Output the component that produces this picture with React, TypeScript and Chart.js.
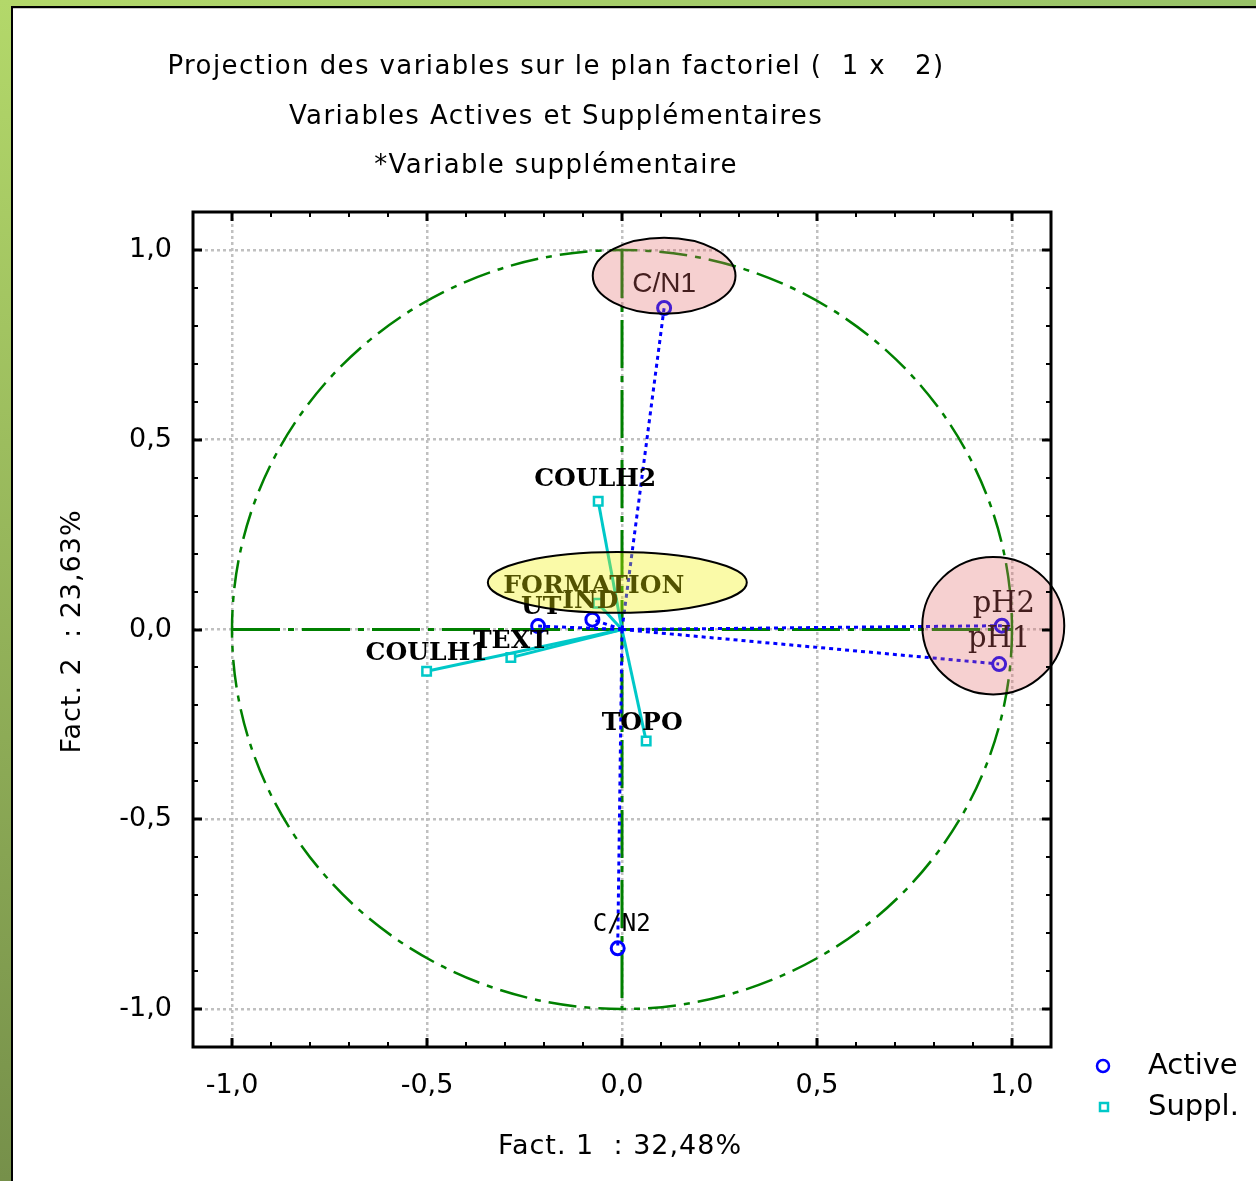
import React, { useEffect, useRef } from 'react';
import { Chart, registerables } from 'chart.js';

Chart.register(...registerables);

// ---------------- data ----------------
const TITLE_LINES = [
  'Projection des variables sur le plan factoriel (  1 x   2)',
  'Variables Actives et Supplémentaires',
  '*Variable supplémentaire',
];
const X_TITLE = 'Fact. 1  : 32,48%';
const Y_TITLE = 'Fact. 2  : 23,63%';

const ACTIVE_NAMES = ['C/N1', 'pH2', 'pH1', 'C/N2', 'UT', 'IND'];
const ACTIVE_X = [0.108, 0.974, 0.967, -0.011, -0.215, -0.076];
const ACTIVE_Y = [0.847, 0.010, -0.091, -0.840, 0.009, 0.026];

const SUPPL_NAMES = ['COULH2', 'FORMATION', 'COULH1', 'TEXT', 'TOPO'];
const SUPPL_X = [-0.061, -0.062, -0.501, -0.285, 0.062];
const SUPPL_Y = [0.338, 0.069, -0.110, -0.074, -0.294];

const LEGEND_LABELS = ['Active', 'Suppl.'];
const MAJOR_TICKS = [-1, -0.5, 0, 0.5, 1];
const MAJOR_TICK_LABELS = ['-1,0', '-0,5', '0,0', '0,5', '1,0'];
const AXIS_MIN = -1.1;
const AXIS_MAX = 1.1;
const CIRCLE_RADIUS = 1;

// highlight ellipses (data units)
const HIGHLIGHT_CX = [0.108, 0.952, -0.012];
const HIGHLIGHT_CY = [0.932, 0.010, 0.124];
const HIGHLIGHT_RX = [0.183, 0.182, 0.332];
const HIGHLIGHT_RY = [0.100, 0.181, 0.080];

// ---------------- styles ----------------
const BLUE = '#0000ff';
const CYAN = '#00c8c8';
const GREEN = '#008000';
const SANS = '"DejaVu Sans"';
const HIGHLIGHT_FILL = ['rgba(225,100,100,0.30)', 'rgba(225,100,100,0.30)', 'rgba(240,240,0,0.34)'];

const BOLD_SERIF = 'bold 25px "DejaVu Serif"';
const LABEL_STYLE: Record<string, { font: string; dx: number; dy: number }> = {
  'C/N1': { font: '28px "Liberation Sans"', dx: 0, dy: -16 },
  pH2: { font: '29px "DejaVu Serif"', dx: 2, dy: -14 },
  pH1: { font: '29px "DejaVu Serif"', dx: 0, dy: -17 },
  'C/N2': { font: '24px "DejaVu Sans Mono"', dx: 4, dy: -17 },
  UT: { font: BOLD_SERIF, dx: 3, dy: -12 },
  IND: { font: BOLD_SERIF, dx: -2, dy: -12 },
  COULH2: { font: BOLD_SERIF, dx: -3, dy: -15 },
  FORMATION: { font: BOLD_SERIF, dx: -4, dy: -10 },
  COULH1: { font: BOLD_SERIF, dx: 0, dy: -11 },
  TEXT: { font: BOLD_SERIF, dx: 0, dy: -10 },
  TOPO: { font: BOLD_SERIF, dx: -4, dy: -11 },
};

const isMajor = (v: number) => MAJOR_TICKS.some((t) => Math.abs(t - v) < 1e-6);
const tickLabel = (v: number) => {
  const i = MAJOR_TICKS.findIndex((t) => Math.abs(t - v) < 1e-6);
  return i >= 0 ? MAJOR_TICK_LABELS[i] : '';
};

const activeSets = ACTIVE_NAMES.map((name, i) => ({
  label: name,
  data: [
    { x: 0, y: 0 },
    { x: ACTIVE_X[i], y: ACTIVE_Y[i] },
  ],
  showLine: true,
  tension: 0,
  borderColor: BLUE,
  borderWidth: 3,
  borderDash: [4, 4],
  pointRadius: [0, 6.5],
  pointStyle: 'circle',
  pointBorderColor: BLUE,
  pointBackgroundColor: 'rgba(255,255,255,0)',
  pointBorderWidth: 3,
}));

const supplSets = SUPPL_NAMES.map((name, i) => ({
  label: name,
  data: [
    { x: 0, y: 0 },
    { x: SUPPL_X[i], y: SUPPL_Y[i] },
  ],
  showLine: true,
  tension: 0,
  borderColor: CYAN,
  borderWidth: 3,
  pointRadius: [0, 6],
  pointStyle: 'rect',
  pointBorderColor: CYAN,
  pointBackgroundColor: '#ffffff',
  pointBorderWidth: 2.5,
}));

const decorPlugin = {
  id: 'decor',
  beforeDraw(chart: any) {
    const { ctx, width, height } = chart;
    ctx.save();
    ctx.fillStyle = '#ffffff';
    ctx.fillRect(0, 0, width, height);
    let g = ctx.createLinearGradient(0, 0, 0, height);
    g.addColorStop(0, '#b3d86a');
    g.addColorStop(1, '#76904a');
    ctx.fillStyle = g;
    ctx.fillRect(0, 0, 11, height);
    g = ctx.createLinearGradient(0, 0, width, 0);
    g.addColorStop(0, '#b3d86a');
    g.addColorStop(1, '#98c268');
    ctx.fillStyle = g;
    ctx.fillRect(11, 0, width - 11, 6);
    ctx.fillStyle = '#000';
    ctx.fillRect(11, 6, 2, height - 6);
    ctx.fillRect(11, 6, width - 11, 2);
    ctx.fillStyle = '#c8c8c8';
    ctx.fillRect(13, 8, width - 13, 1);
    // titles
    ctx.fillStyle = '#000';
    ctx.font = `26px ${SANS}`;
    (ctx as any).letterSpacing = '1.4px';
    ctx.textAlign = 'center';
    ctx.textBaseline = 'middle';
    const ys = [67, 117, 166];
    TITLE_LINES.forEach((t, i) => ctx.fillText(t, 556, ys[i]));
    ctx.restore();
  },
  beforeDatasetsDraw(chart: any) {
    const { ctx } = chart;
    const xs = chart.scales.x;
    const ys = chart.scales.y;
    const cx = xs.getPixelForValue(0);
    const cy = ys.getPixelForValue(0);
    const rx = xs.getPixelForValue(CIRCLE_RADIUS) - cx;
    const ry = cy - ys.getPixelForValue(CIRCLE_RADIUS);
    ctx.save();
    ctx.strokeStyle = GREEN;
    ctx.lineWidth = 2.5;
    ctx.setLineDash([28, 8, 6, 8]);
    ctx.beginPath();
    ctx.ellipse(cx, cy, rx, ry, 0, 0, Math.PI * 2);
    ctx.stroke();
    ctx.lineWidth = 3;
    ctx.setLineDash([48, 8, 6, 8]);
    ctx.beginPath();
    ctx.moveTo(xs.getPixelForValue(-CIRCLE_RADIUS), cy);
    ctx.lineTo(xs.getPixelForValue(CIRCLE_RADIUS), cy);
    ctx.moveTo(cx, ys.getPixelForValue(CIRCLE_RADIUS));
    ctx.lineTo(cx, ys.getPixelForValue(-CIRCLE_RADIUS));
    ctx.stroke();
    ctx.restore();
  },
  afterDatasetsDraw(chart: any) {
    const { ctx } = chart;
    const xs = chart.scales.x;
    const ys = chart.scales.y;
    ctx.save();
    ctx.fillStyle = '#000';
    ctx.textAlign = 'center';
    ctx.textBaseline = 'alphabetic';
    chart.data.datasets.forEach((ds: any, i: number) => {
      const meta = chart.getDatasetMeta(i);
      const pt = meta.data[1];
      const st = LABEL_STYLE[ds.label];
      if (!pt || !st) return;
      ctx.font = st.font;
      ctx.fillText(ds.label, pt.x + st.dx, pt.y + st.dy);
    });
    // highlight ellipses
    HIGHLIGHT_CX.forEach((hx, i) => {
      const cx = xs.getPixelForValue(hx);
      const cy = ys.getPixelForValue(HIGHLIGHT_CY[i]);
      const rx = xs.getPixelForValue(hx + HIGHLIGHT_RX[i]) - cx;
      const ry = cy - ys.getPixelForValue(HIGHLIGHT_CY[i] + HIGHLIGHT_RY[i]);
      ctx.beginPath();
      ctx.ellipse(cx, cy, rx, ry, 0, 0, Math.PI * 2);
      ctx.fillStyle = HIGHLIGHT_FILL[i];
      ctx.fill();
      ctx.lineWidth = 2;
      ctx.strokeStyle = '#000';
      ctx.stroke();
    });
    ctx.restore();
  },
  afterDraw(chart: any) {
    const { ctx, chartArea } = chart;
    const { left, top, right, bottom } = chartArea;
    const xs = chart.scales.x;
    const ys = chart.scales.y;
    ctx.save();
    ctx.strokeStyle = '#000';
    ctx.lineWidth = 3;
    ctx.strokeRect(left, top, right - left, bottom - top);
    ctx.fillStyle = '#000';
    xs.ticks.forEach((t: any) => {
      const v = t.value;
      if (v <= AXIS_MIN + 1e-6 || v >= AXIS_MAX - 1e-6) return;
      const p = Math.round(xs.getPixelForValue(v));
      const maj = isMajor(v);
      const w = maj ? 3 : 2;
      const len = maj ? 9 : 5;
      ctx.fillRect(p - w / 2, bottom - len, w, len);
      ctx.fillRect(p - w / 2, top, w, len);
    });
    ys.ticks.forEach((t: any) => {
      const v = t.value;
      if (v <= AXIS_MIN + 1e-6 || v >= AXIS_MAX - 1e-6) return;
      const p = Math.round(ys.getPixelForValue(v));
      const maj = isMajor(v);
      const w = maj ? 3 : 2;
      const len = maj ? 9 : 5;
      ctx.fillRect(left, p - w / 2, len, w);
      ctx.fillRect(right - len, p - w / 2, len, w);
    });
    // axis titles
    ctx.font = `27px ${SANS}`;
    (ctx as any).letterSpacing = '1px';
    ctx.textAlign = 'center';
    ctx.textBaseline = 'middle';
    ctx.fillText(X_TITLE, (left + right) / 2 - 2, 1147);
    ctx.save();
    ctx.translate(73, (top + bottom) / 2 + 2);
    ctx.rotate(-Math.PI / 2);
    ctx.fillText(Y_TITLE, 0, 0);
    ctx.restore();
    (ctx as any).letterSpacing = '0px';
    // legend
    const legendY = [1066, 1107];
    ctx.font = `29px ${SANS}`;
    ctx.textAlign = 'left';
    ctx.textBaseline = 'middle';
    LEGEND_LABELS.forEach((lab, i) => {
      const y = legendY[i];
      ctx.lineWidth = 2.5;
      if (i === 0) {
        ctx.strokeStyle = BLUE;
        ctx.beginPath();
        ctx.arc(1103, y, 6, 0, Math.PI * 2);
        ctx.stroke();
      } else {
        ctx.strokeStyle = CYAN;
        ctx.strokeRect(1100, y - 4, 8, 8);
      }
      ctx.fillStyle = '#000';
      ctx.fillText(lab, 1148, y);
    });
    ctx.restore();
  },
};

export default function App() {
  const ref = useRef<HTMLCanvasElement>(null);
  useEffect(() => {
    if (!ref.current) return;
    const chart = new Chart(ref.current, {
      type: 'scatter',
      data: { datasets: [...activeSets, ...supplSets] as any },
      options: {
        animation: false,
        responsive: false,
        devicePixelRatio: 1,
        events: [],
        layout: { padding: { top: 212, right: 205, left: 0, bottom: 0 } },
        plugins: {
          legend: { display: false },
          tooltip: { enabled: false },
          title: { display: false },
        },
        scales: {
          x: {
            type: 'linear',
            position: 'bottom',
            min: AXIS_MIN,
            max: AXIS_MAX,
            afterFit: (s: any) => {
              s.height = 134;
            },
            ticks: {
              stepSize: 0.1,
              autoSkip: false,
              maxRotation: 0,
              minRotation: 0,
              padding: 23,
              color: '#000',
              font: { family: SANS, size: 27 },
              callback: (v: any) => tickLabel(Number(v)),
            },
            grid: {
              drawTicks: false,
              lineWidth: 2.5,
              color: (c: any) => (c.tick && isMajor(c.tick.value) ? '#c0c0c0' : 'rgba(0,0,0,0)'),
            },
            border: { display: false, dash: [3, 3] },
            title: { display: false },
          },
          y: {
            type: 'linear',
            position: 'left',
            min: AXIS_MIN,
            max: AXIS_MAX,
            afterFit: (s: any) => {
              s.width = 193;
            },
            ticks: {
              stepSize: 0.1,
              autoSkip: false,
              padding: 21,
              color: '#000',
              font: { family: SANS, size: 27 },
              callback: (v: any) => tickLabel(Number(v)),
            },
            grid: {
              drawTicks: false,
              lineWidth: 2.5,
              color: (c: any) => (c.tick && isMajor(c.tick.value) ? '#c0c0c0' : 'rgba(0,0,0,0)'),
            },
            border: { display: false, dash: [3, 3] },
            title: { display: false },
          },
        },
      } as any,
      plugins: [decorPlugin],
    });
    return () => chart.destroy();
  }, []);
  return (
    <div style={{ position: 'absolute', left: 0, top: 0, width: 1256, height: 1181 }}>
      <canvas ref={ref} width={1256} height={1181} style={{ display: 'block', width: 1256, height: 1181 }} />
    </div>
  );
}
